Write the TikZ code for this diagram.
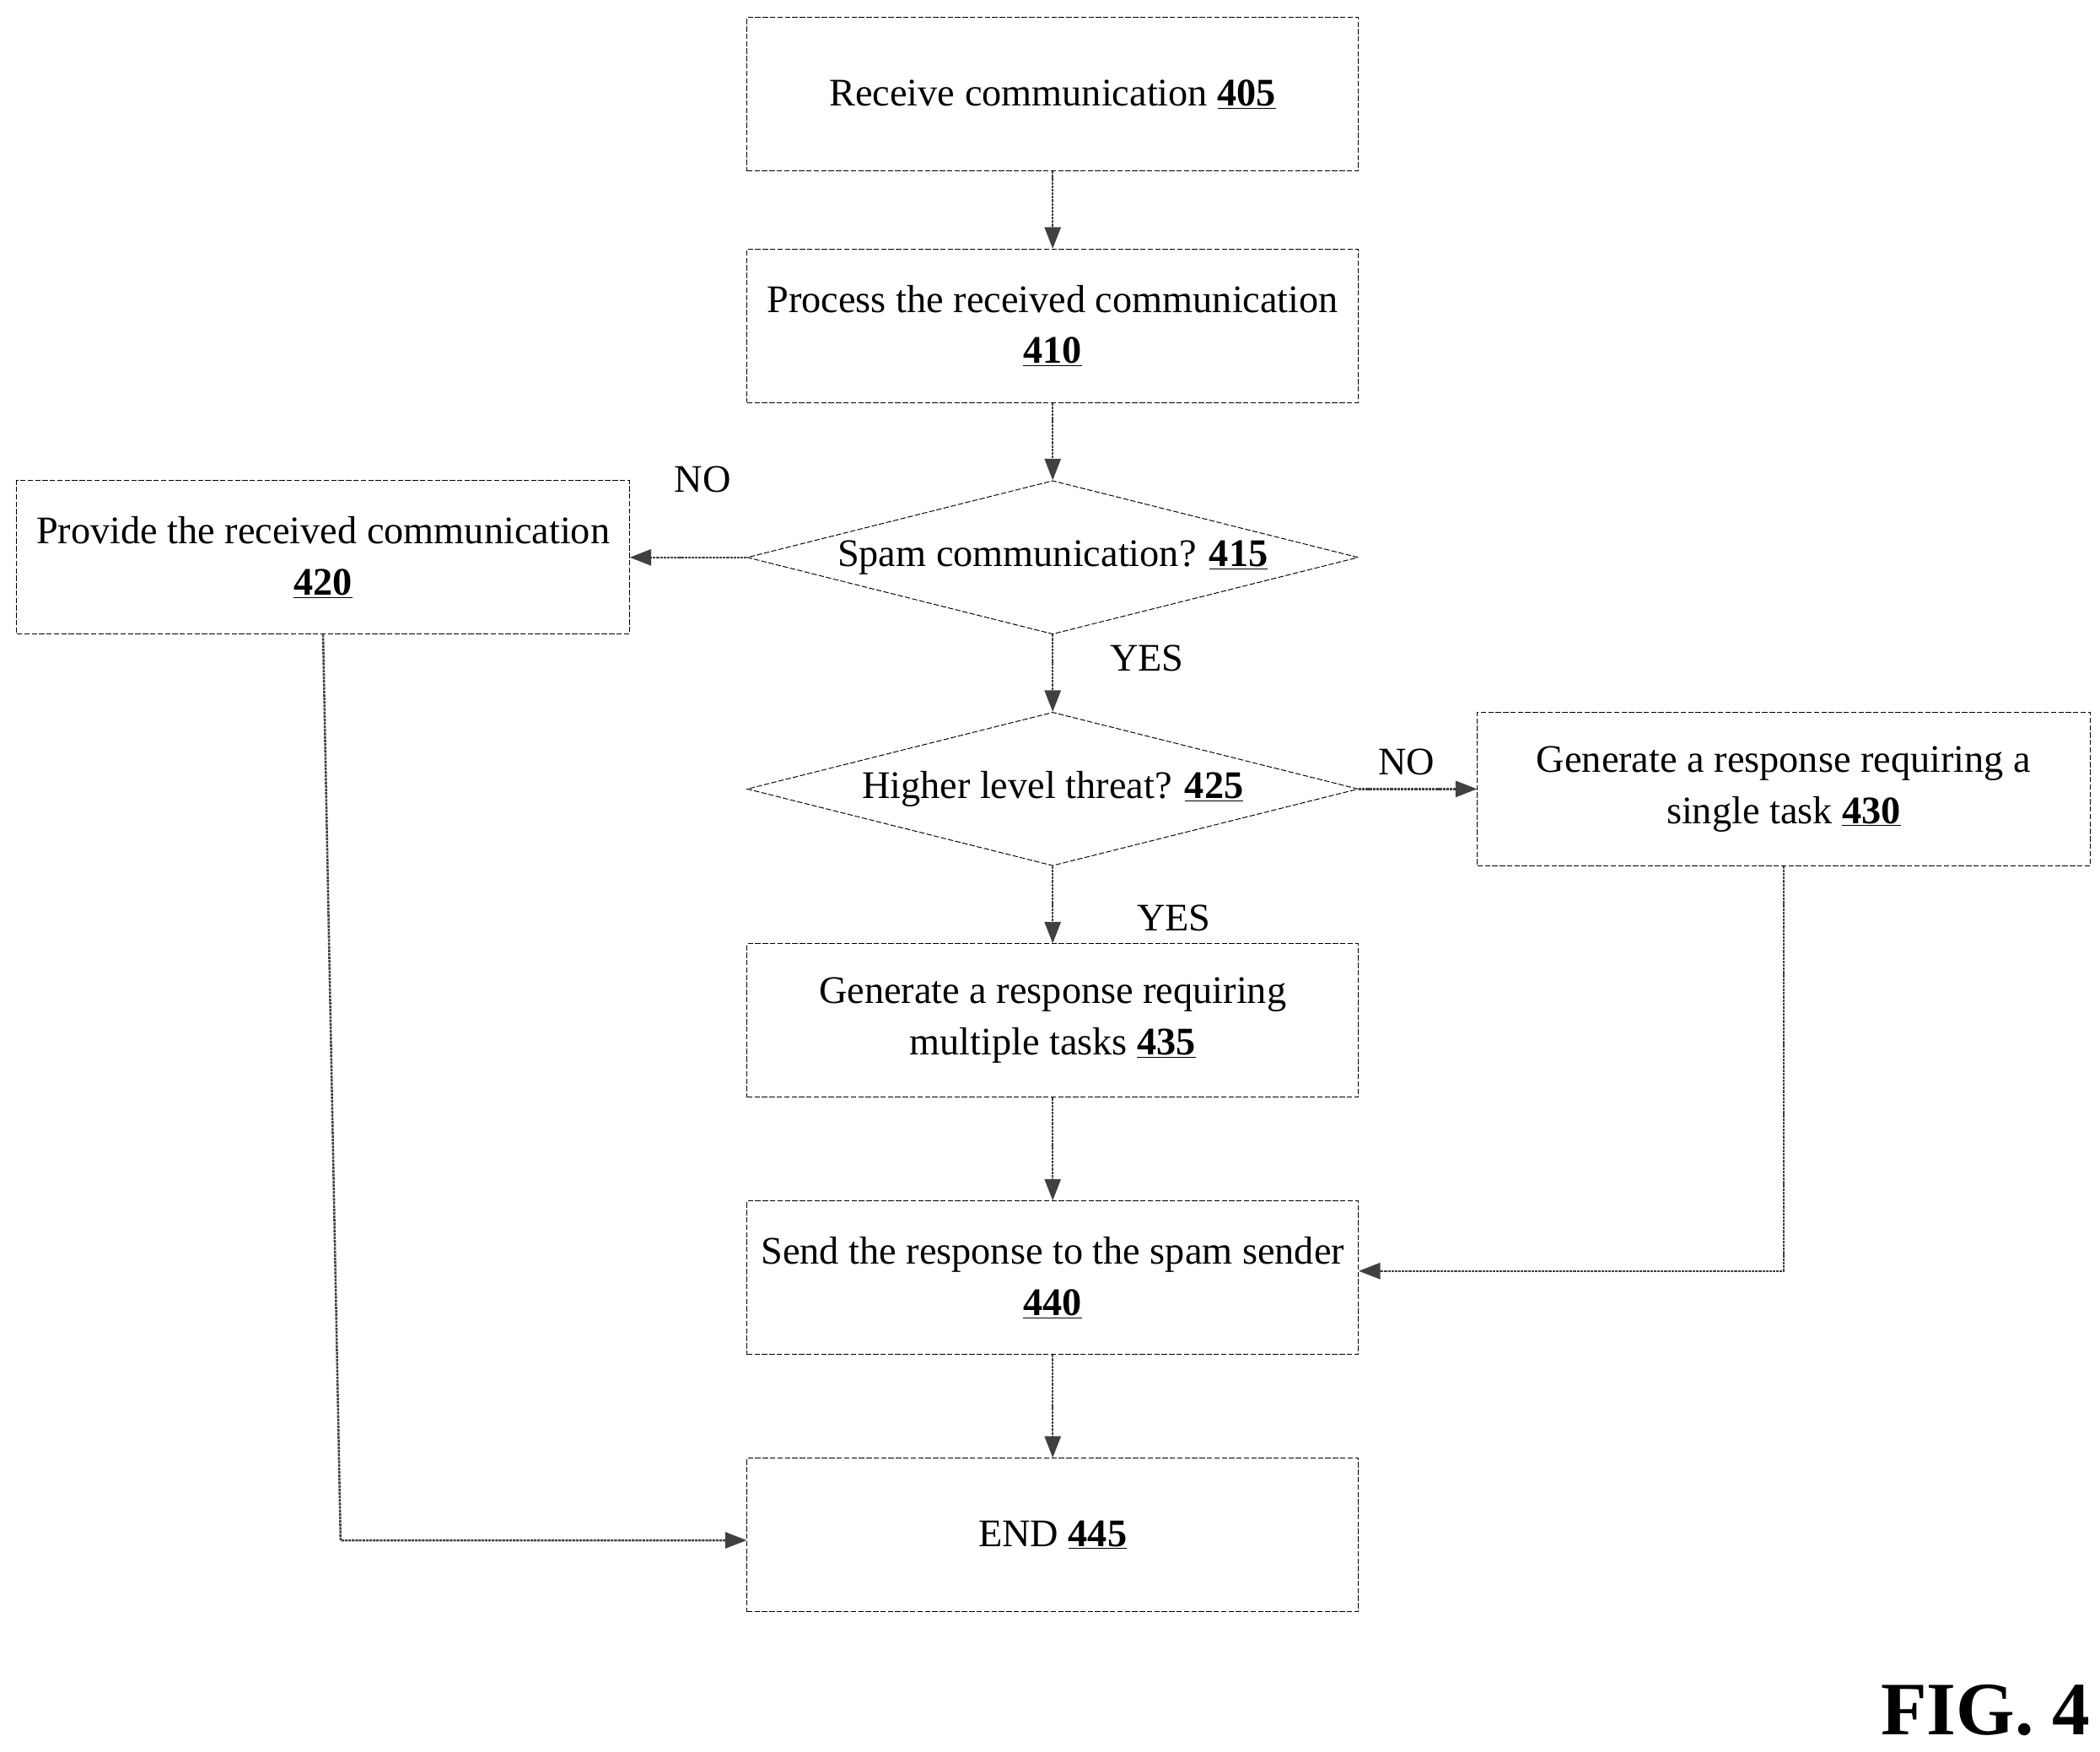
\documentclass[tikz,border=0pt]{standalone}
\usepackage{fontspec}
\setmainfont{Liberation Serif}
\usetikzlibrary{shapes.geometric,arrows.meta}
\newcommand{\num}[1]{\underline{\textbf{#1}}}
\begin{document}
\begin{tikzpicture}[x=1pt,y=-1pt,
  box/.style={draw,dash pattern=on 4pt off 1.5pt,line width=0.6pt,minimum width=454pt,minimum height=114pt,align=center,inner sep=2pt},
  dia/.style={draw,diamond,aspect=4,dash pattern=on 4pt off 1.5pt,line width=0.6pt,minimum width=454pt,minimum height=114pt,align=center,inner sep=0pt},
  arr/.style={-{Triangle[length=16pt,width=12pt]},line width=1.6pt,draw=black!75,dash pattern=on 2pt off 0.6pt},
  lab/.style={font=\fontsize{29}{36}\selectfont},
  every node/.style={font=\fontsize{29}{38}\selectfont}]
\useasboundingbox (0,0) rectangle (1560,1301);
\node[box] (n405) at (782,70) {Receive communication \num{405}};
\node[box] (n410) at (782,242) {Process the received communication\\\num{410}};
\node[dia] (n415) at (782,414) {Spam communication? \num{415}};
\node[box,minimum width=455pt] (n420) at (240,414) {Provide the received communication\\\num{420}};
\node[dia] (n425) at (782,586) {Higher level threat? \num{425}};
\node[box,minimum width=455pt] (n430) at (1325,586) {Generate a response requiring a\\single task \num{430}};
\node[box] (n435) at (782,758) {Generate a response requiring\\multiple tasks \num{435}};
\node[box] (n440) at (782,949) {Send the response to the spam sender\\\num{440}};
\node[box] (n445) at (782,1140) {END \num{445}};
\coordinate (c1) at (253,1144);
\coordinate (c2) at (1325,944);
\draw[arr] (n405) -- (n410);
\draw[arr] (n410) -- (n415);
\draw[arr] (n415) -- (n420);
\draw[arr] (n415) -- (n425);
\draw[arr] (n425) -- (n430);
\draw[arr] (n425) -- (n435);
\draw[arr] (n435) -- (n440);
\draw[arr] (n440) -- (n445);
\draw[arr] (n420.south) -- (c1) -- (n445.west |- c1);
\draw[arr] (n430.south) -- (c2) -- (n440.east |- c2);
\node[lab] (l1) at (522,356) {NO};
\node[lab] (l2) at (852,489) {YES};
\node[lab] (l3) at (1045,566) {NO};
\node[lab] (l4) at (872,682) {YES};
\node[font=\fontsize{56}{60}\selectfont\bfseries] (fig) at (1475,1270) {FIG. 4};
\end{tikzpicture}
\end{document}
